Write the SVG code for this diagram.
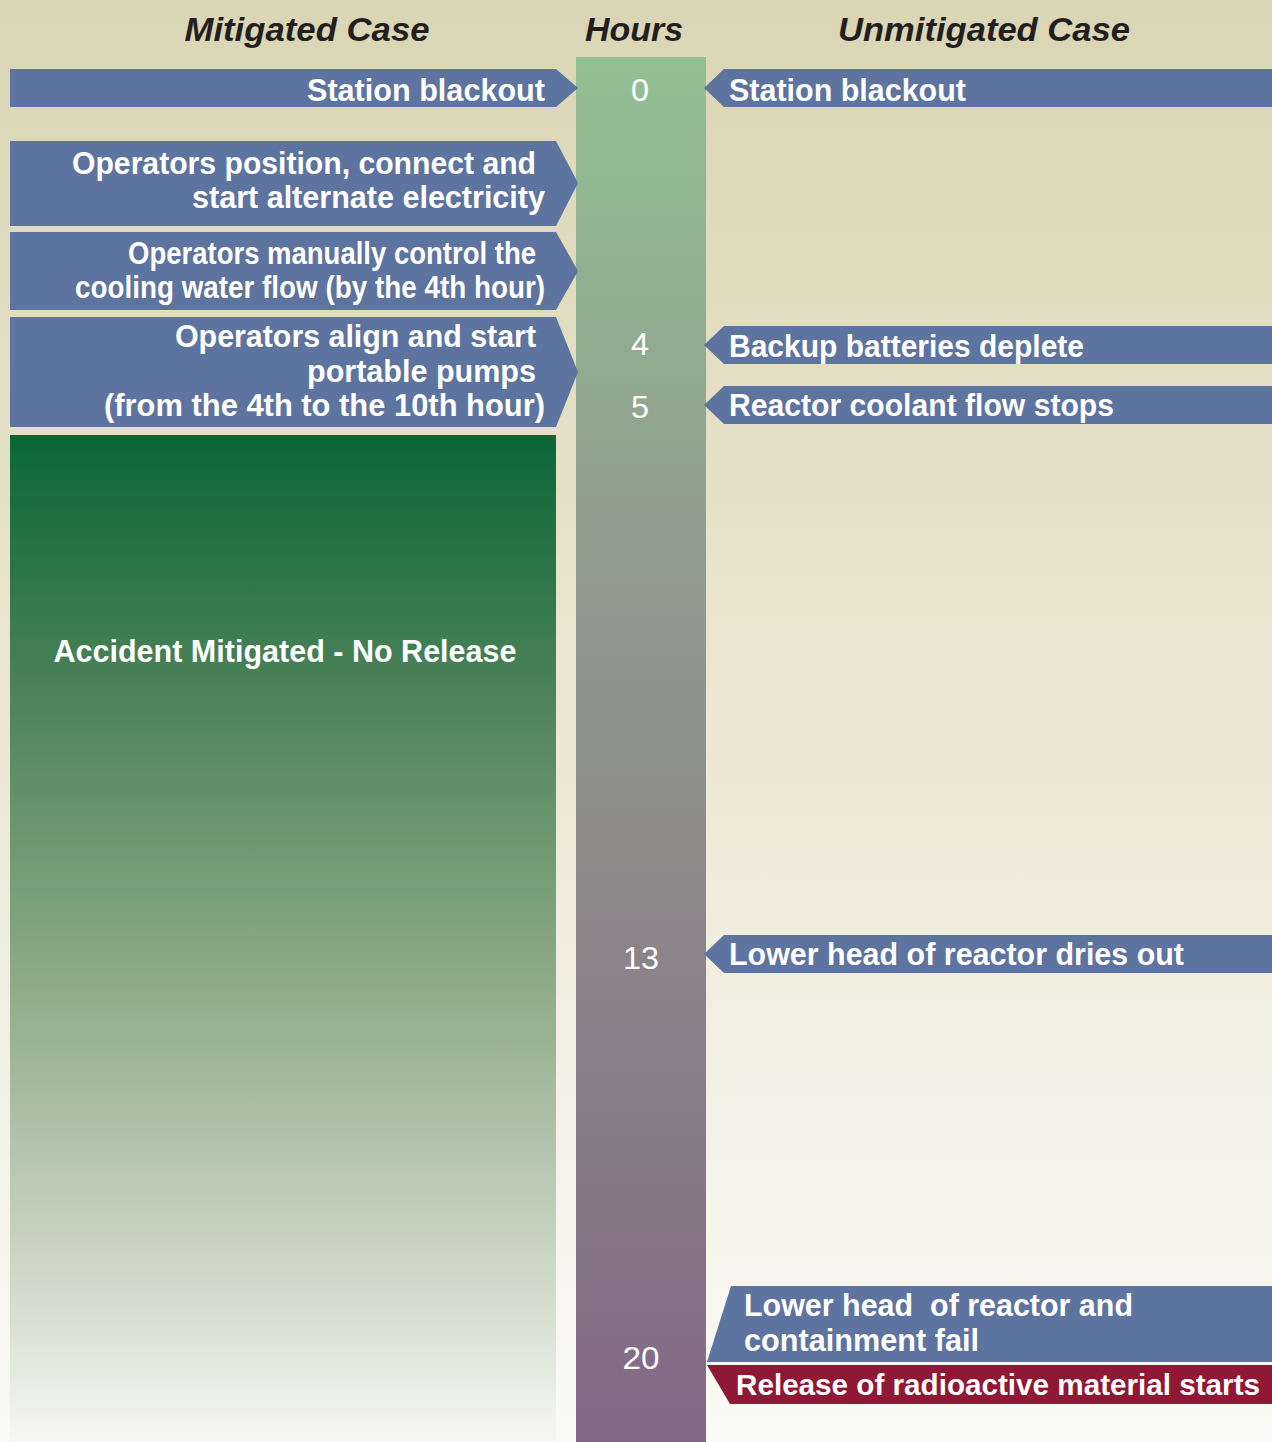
<svg xmlns="http://www.w3.org/2000/svg" width="1272" height="1442" viewBox="0 0 1272 1442">
<defs>
<linearGradient id="bg" x1="0" y1="0" x2="0" y2="1">
<stop offset="0" stop-color="#dad5b4"/>
<stop offset="0.5" stop-color="#ebe7d3"/>
<stop offset="1" stop-color="#fafbf6"/>
</linearGradient>
<linearGradient id="hrs" x1="0" y1="0" x2="0" y2="1">
<stop offset="0" stop-color="#93bf94"/>
<stop offset="0.45" stop-color="#8f948b"/>
<stop offset="0.65" stop-color="#8b8489"/>
<stop offset="1" stop-color="#836886"/>
</linearGradient>
<linearGradient id="grn" x1="0" y1="0" x2="0" y2="1">
<stop offset="0" stop-color="#0a6736"/>
<stop offset="0.25" stop-color="#4b8259"/>
<stop offset="0.55" stop-color="#90ab8a"/>
<stop offset="0.85" stop-color="#d2dbcb"/>
<stop offset="1" stop-color="#f6f7f1"/>
</linearGradient>
<style>
.hdr{font-family:"Liberation Sans",Arial,sans-serif;font-weight:bold;font-style:italic;font-size:34px;fill:#231f20;text-anchor:middle}
.box{fill:#5d73a0}
.red{fill:#8f1834}
.t{font-family:"Liberation Sans",Arial,sans-serif;font-weight:bold;font-size:31px;fill:#ffffff}
.r{text-anchor:end}
.num{font-family:"Liberation Sans",Arial,sans-serif;font-size:32px;fill:#ffffff;text-anchor:middle}
</style>
</defs>
<rect x="0" y="0" width="1272" height="1442" fill="url(#bg)"/>

<g id="headers">
<text class="hdr" x="307" y="41" textLength="245" lengthAdjust="spacingAndGlyphs">Mitigated Case</text>
<text class="hdr" x="634" y="41" textLength="98" lengthAdjust="spacingAndGlyphs">Hours</text>
<text class="hdr" x="984" y="41" textLength="292" lengthAdjust="spacingAndGlyphs">Unmitigated Case</text>
</g>

<g id="hours-bar">
<rect x="576" y="57" width="130" height="1385" fill="url(#hrs)"/>
<text class="num" x="640" y="101" textLength="18" lengthAdjust="spacingAndGlyphs">0</text>
<text class="num" x="640" y="355" textLength="18" lengthAdjust="spacingAndGlyphs">4</text>
<text class="num" x="640" y="418" textLength="18" lengthAdjust="spacingAndGlyphs">5</text>
<text class="num" x="641" y="969" textLength="36" lengthAdjust="spacingAndGlyphs">13</text>
<text class="num" x="641" y="1369" textLength="37" lengthAdjust="spacingAndGlyphs">20</text>
</g>

<g id="left-station-blackout">
<polygon class="box" points="10,69 556,69 578,88 556,107 10,107"/>
<text class="t r" x="545" y="101" textLength="238" lengthAdjust="spacingAndGlyphs">Station blackout</text>
</g>
<g id="left-alternate-electricity">
<polygon class="box" points="10,141 556,141 578,183 556,226 10,226"/>
<text class="t r" x="536" y="174" textLength="464" lengthAdjust="spacingAndGlyphs">Operators position, connect and</text>
<text class="t r" x="545" y="208" textLength="353" lengthAdjust="spacingAndGlyphs">start alternate electricity</text>
</g>
<g id="left-manual-control">
<polygon class="box" points="10,232 556,232 578,271 556,310 10,310"/>
<text class="t r" x="536" y="264" textLength="408" lengthAdjust="spacingAndGlyphs">Operators manually control the</text>
<text class="t r" x="545" y="298" textLength="470" lengthAdjust="spacingAndGlyphs">cooling water flow (by the 4th hour)</text>
</g>
<g id="left-portable-pumps">
<polygon class="box" points="10,317 556,317 578,372 556,427 10,427"/>
<text class="t r" x="536" y="347" textLength="361" lengthAdjust="spacingAndGlyphs">Operators align and start</text>
<text class="t r" x="536" y="382" textLength="229" lengthAdjust="spacingAndGlyphs">portable pumps</text>
<text class="t r" x="545" y="416" textLength="441" lengthAdjust="spacingAndGlyphs">(from the 4th to the 10th hour)</text>
</g>
<g id="left-mitigated">
<rect x="10" y="435" width="546" height="1007" fill="url(#grn)"/>
<text class="t" x="285" y="662" text-anchor="middle" textLength="463" lengthAdjust="spacingAndGlyphs">Accident Mitigated - No Release</text>
</g>

<g id="right-station-blackout">
<polygon class="box" points="1272,69 724,69 704,88 724,107 1272,107"/>
<text class="t" x="729" y="101" textLength="237" lengthAdjust="spacingAndGlyphs">Station blackout</text>
</g>
<g id="right-batteries">
<polygon class="box" points="1272,326 724,326 704,345 724,364 1272,364"/>
<text class="t" x="729" y="357" textLength="355" lengthAdjust="spacingAndGlyphs">Backup batteries deplete</text>
</g>
<g id="right-coolant">
<polygon class="box" points="1272,386 724,386 704,405 724,424 1272,424"/>
<text class="t" x="729" y="416" textLength="385" lengthAdjust="spacingAndGlyphs">Reactor coolant flow stops</text>
</g>
<g id="right-dries-out">
<polygon class="box" points="1272,935 724,935 704,954 724,973 1272,973"/>
<text class="t" x="729" y="965" textLength="455" lengthAdjust="spacingAndGlyphs">Lower head of reactor dries out</text>
</g>
<g id="right-containment-fail">
<polygon class="box" points="731,1286 1272,1286 1272,1362 707,1362"/>
<text class="t" x="744" y="1316" textLength="389" lengthAdjust="spacingAndGlyphs" style="white-space:pre">Lower head  of reactor and</text>
<text class="t" x="744" y="1351" textLength="235" lengthAdjust="spacingAndGlyphs">containment fail</text>
</g>
<g id="right-release">
<polygon class="red" points="707,1365 1272,1365 1272,1404 730,1404"/>
<text class="t" x="736" y="1395" style="font-size:29px" textLength="524" lengthAdjust="spacingAndGlyphs">Release of radioactive material starts</text>
</g>
</svg>
